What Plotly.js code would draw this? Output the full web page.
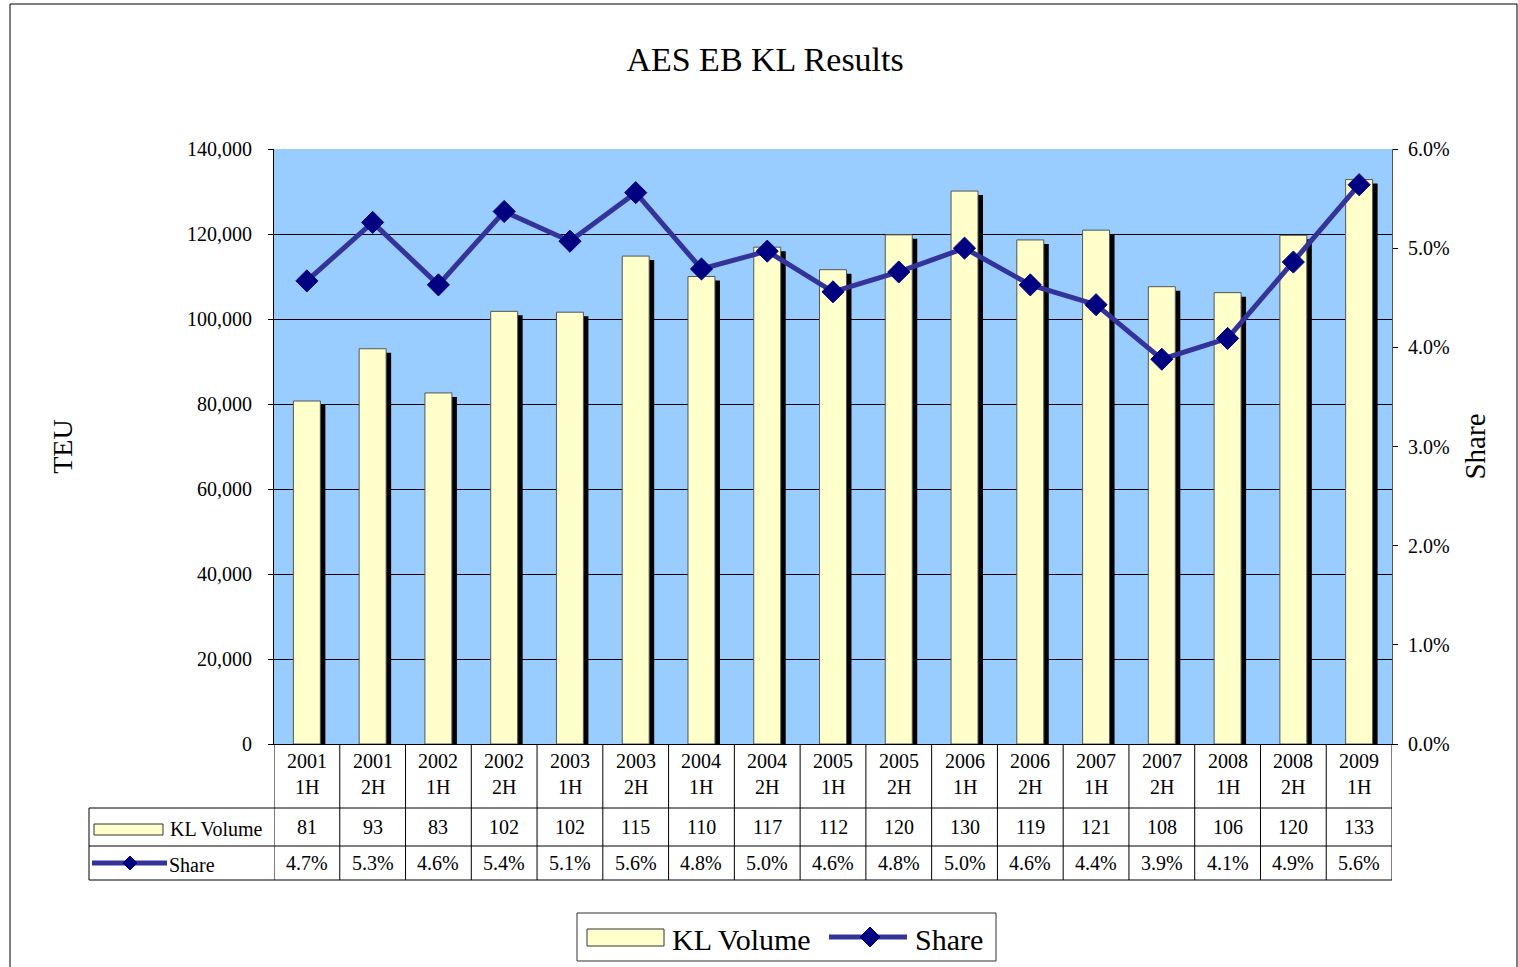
<!DOCTYPE html>
<html>
<head>
<meta charset="utf-8">
<script src="https://cdn.plot.ly/plotly-3.0.1.min.js"></script>
<style>
  html, body { margin: 0; padding: 0; background: #fff; }
  #chart { width: 1518px; height: 967px; }
</style>
</head>
<body>
<div id="chart"></div>
<script>
// half-year periods
const periods = ['2001 1H', '2001 2H', '2002 1H', '2002 2H', '2003 1H', '2003 2H',
    '2004 1H', '2004 2H', '2005 1H', '2005 2H', '2006 1H', '2006 2H',
    '2007 1H', '2007 2H', '2008 1H', '2008 2H', '2009 1H'];

// KL volume in TEU
const klVolume = [80700, 93000, 82600, 101800, 101600, 114800,
    110000, 116900, 111600, 119800, 130100, 118600,
    120900, 107600, 106200, 119700, 132800];

// market share, percent
const share = [4.67, 5.26, 4.63, 5.37, 5.07, 5.56,
    4.79, 4.97, 4.56, 4.76, 5.00, 4.63,
    4.43, 3.88, 4.09, 4.86, 5.64];

const FONT = 'Liberation Serif, Times New Roman, serif';
const BAR_FILL = '#FFFFCC';
const LINE_COL = '#333399';
const MARK_COL = '#000080';

// plot area in pixels (for placing table / legend furniture)
const L = 274, R = 1392, T = 149, B = 744;
const px = x => (x - L) / (R - L);
const py = y => (B - y) / (B - T);

const traces = [
    {   // drop shadow behind the bars
        type: 'bar', x: periods, y: klVolume,
        base: -940, width: 0.41, offset: -0.129,
        marker: { color: '#000000' },
        showlegend: false, hoverinfo: 'skip'
    },
    {
        type: 'bar', name: 'KL Volume', x: periods, y: klVolume,
        width: 0.41, offset: -0.205,
        marker: { color: BAR_FILL, line: { color: '#555555', width: 1 } },
        showlegend: false
    },
    {
        type: 'scatter', mode: 'lines+markers', name: 'Share',
        x: periods, y: share, yaxis: 'y2',
        line: { color: LINE_COL, width: 5 },
        marker: { symbol: 'diamond', size: 17, color: MARK_COL, line: { color: MARK_COL, width: 1 } },
        showlegend: false
    }
];

const shapes = [];
const annotations = [];
const lineStyle = { color: '#000000', width: 1 };

// outer frame
shapes.push({ type: 'rect', xref: 'paper', yref: 'paper',
    x0: px(10), x1: px(1517), y0: py(1000), y1: py(4),
    line: { color: '#000000', width: 1 }, layer: 'below' });

// data table grid
[808, 846, 880].forEach(y => shapes.push({ type: 'line', xref: 'paper', yref: 'paper',
    x0: px(89), x1: 1, y0: py(y), y1: py(y), line: lineStyle }));
shapes.push({ type: 'line', xref: 'paper', yref: 'paper',
    x0: px(89), x1: px(89), y0: py(808), y1: py(880), line: lineStyle });
for (let i = 0; i <= periods.length; i++) {
    shapes.push({ type: 'line', xref: 'x', yref: 'paper',
        x0: i - 0.5, x1: i - 0.5, y0: py(744), y1: py(880), line: lineStyle });
}

// table cells
const cellFont = { family: FONT, size: 20, color: '#000' };
periods.forEach((p, i) => {
    const [yr, half] = p.split(' ');
    annotations.push({ xref: 'x', yref: 'paper', x: i, y: py(761), text: yr,
        showarrow: false, font: cellFont, yanchor: 'middle' });
    annotations.push({ xref: 'x', yref: 'paper', x: i, y: py(787), text: half,
        showarrow: false, font: cellFont, yanchor: 'middle' });
    annotations.push({ xref: 'x', yref: 'paper', x: i, y: py(827), text: String(Math.round(klVolume[i] / 1000)),
        showarrow: false, font: cellFont, yanchor: 'middle' });
    annotations.push({ xref: 'x', yref: 'paper', x: i, y: py(863), text: share[i].toFixed(1) + '%',
        showarrow: false, font: cellFont, yanchor: 'middle' });
});

// legend keys - helper
function barKey(x0, x1, y0, y1) {
    shapes.push({ type: 'rect', xref: 'paper', yref: 'paper',
        x0: px(x0), x1: px(x1), y0: py(y1), y1: py(y0),
        fillcolor: BAR_FILL, line: { color: '#333333', width: 1 } });
}
function lineKey(x0, x1, y, xm, r) {
    shapes.push({ type: 'line', xref: 'paper', yref: 'paper',
        x0: px(x0), x1: px(x1), y0: py(y), y1: py(y),
        line: { color: LINE_COL, width: 5 } });
    shapes.push({ type: 'path', xref: 'paper', yref: 'paper',
        xsizemode: 'pixel', ysizemode: 'pixel', xanchor: px(xm), yanchor: py(y),
        path: `M0,${r}L${r},0L0,${-r}L${-r},0Z`,
        fillcolor: MARK_COL, line: { color: MARK_COL, width: 1 } });
}
function label(x, y, text, size) {
    annotations.push({ xref: 'paper', yref: 'paper', x: px(x), y: py(y), text,
        showarrow: false, xanchor: 'left', yanchor: 'middle',
        font: { family: FONT, size, color: '#000' } });
}

// keys in the data table
barKey(94, 163, 824, 835);
label(168, 829, 'KL Volume', 20);
lineKey(92, 167, 863, 130, 7);
label(167, 865, 'Share', 20);

// legend below the table
shapes.push({ type: 'rect', xref: 'paper', yref: 'paper',
    x0: px(577), x1: px(996), y0: py(961), y1: py(913),
    fillcolor: '#ffffff', line: { color: '#333333', width: 1 } });
barKey(587, 664, 929, 946);
label(670, 939, 'KL Volume', 30);
lineKey(829, 907, 937, 870, 10);
label(913, 939, 'Share', 30);

const layout = {
    width: 1518, height: 967,
    margin: { l: L, r: 1518 - R, t: T, b: 967 - B },
    paper_bgcolor: '#ffffff', plot_bgcolor: '#99CCFF',
    barmode: 'overlay',
    showlegend: false,
    font: { family: FONT, color: '#000' },
    title: { text: 'AES EB KL Results', xref: 'container', x: 0.504, y: 1 - 59 / 967,
        xanchor: 'center', yanchor: 'middle', font: { family: FONT, size: 34, color: '#000' } },
    xaxis: {
        type: 'category', range: [-0.5, periods.length - 0.5],
        showticklabels: false, ticks: '', showgrid: false,
        showline: true, linecolor: '#000', linewidth: 1, fixedrange: true
    },
    yaxis: {
        range: [0, 140000], dtick: 20000, tickformat: ',d',
        showgrid: true, gridcolor: '#000', gridwidth: 1, zeroline: false,
        showline: true, linecolor: '#000', linewidth: 1,
        ticks: 'outside', ticklen: 5, tickcolor: '#000', ticklabelstandoff: 12,
        tickfont: { family: FONT, size: 20, color: '#000' },
        title: { text: 'TEU', standoff: 106, font: { family: FONT, size: 28, color: '#000' } }
    },
    yaxis2: {
        overlaying: 'y', side: 'right',
        range: [0, 6], dtick: 1, tickformat: '.1f', ticksuffix: '%',
        showgrid: false, zeroline: false,
        showline: true, linecolor: '#555', linewidth: 1,
        ticks: 'outside', ticklen: 5, tickcolor: '#000', ticklabelstandoff: 6,
        tickfont: { family: FONT, size: 20, color: '#000' },
        title: { text: 'Share', standoff: 16, font: { family: FONT, size: 29, color: '#000' } }
    },
    shapes, annotations
};

Plotly.newPlot('chart', traces, layout, { displayModeBar: false, staticPlot: true });
</script>
</body>
</html>
